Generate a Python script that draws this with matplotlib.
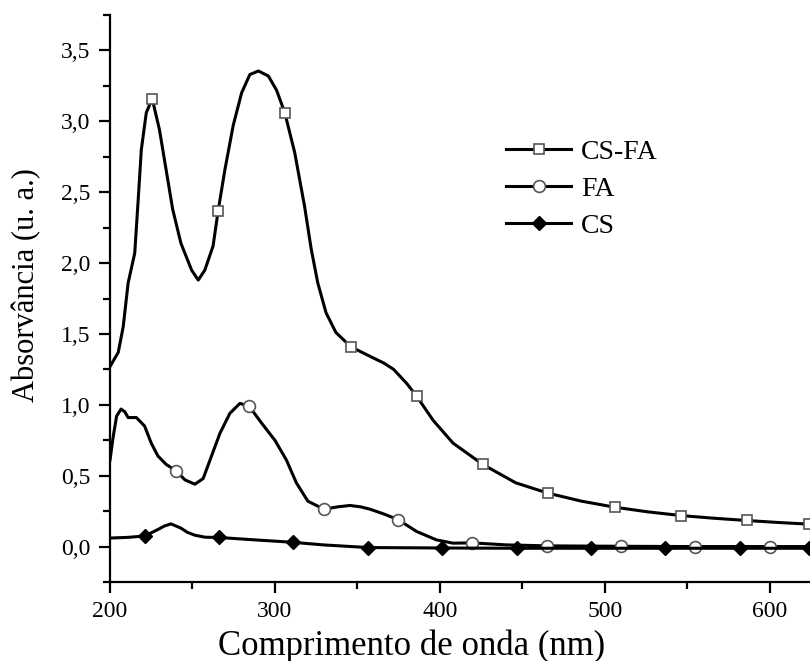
import matplotlib
matplotlib.use('Agg')
import matplotlib.pyplot as plt
from matplotlib.lines import Line2D
from matplotlib.ticker import MultipleLocator, FuncFormatter

# CS-FA
csfa_wl = [200, 205, 208, 211, 215, 217, 219, 222, 225.6, 230, 234, 238, 243, 249.5,
           253.5, 257.5, 262.5, 265.6, 269.7, 274.7, 279.8, 284.8, 290, 296, 301, 306,
           312, 318, 322, 326, 331, 337, 346, 358, 366, 372, 380, 386, 396, 408, 426,
           446, 465.5, 486, 506, 526, 546, 566, 586, 605, 624]
csfa_abs = [1.27, 1.37, 1.55, 1.86, 2.07, 2.43, 2.80, 3.06, 3.16, 2.94, 2.66, 2.38, 2.14, 1.95,
            1.88, 1.95, 2.12, 2.37, 2.66, 2.97, 3.20, 3.33, 3.355, 3.32, 3.22, 3.06,
            2.78, 2.40, 2.10, 1.86, 1.65, 1.51, 1.41, 1.34, 1.295, 1.25, 1.15, 1.06, 0.89, 0.73, 0.58,
            0.45, 0.377, 0.32, 0.278, 0.245, 0.219, 0.20, 0.184, 0.17, 0.158]
csfa_marks = [225.6, 265.6, 306, 346, 386, 426, 465.5, 506, 546, 586, 624]

# FA
fa_wl = [200, 202, 204, 206.7, 209, 211, 216, 221, 225, 229, 234, 240, 245.5, 251.5,
         256.5, 261.6, 266.7, 272.7, 278.8, 284.4, 292, 300, 307, 313, 320, 329.7, 338,
         345.5, 352, 357.6, 366, 374.7, 386, 398, 408, 419.8, 440, 465.3, 510, 555, 600.4, 624]
fa_abs = [0.61, 0.78, 0.92, 0.97, 0.95, 0.91, 0.91, 0.85, 0.73, 0.64, 0.58, 0.535, 0.47, 0.44,
          0.48, 0.64, 0.80, 0.94, 1.01, 0.99, 0.87, 0.75, 0.61, 0.45, 0.32, 0.264, 0.28,
          0.29, 0.28, 0.264, 0.23, 0.19, 0.106, 0.047, 0.024, 0.026, 0.012, 0.005, 0.002, 0.0, 0.0, 0.0]
fa_marks = [240, 284.4, 329.7, 374.7, 419.8, 465.3, 510, 555, 600.4]

# CS
cs_wl = [200, 211, 221.2, 229, 233, 237, 243, 247, 251.5, 257.6, 266.3, 288, 311, 329,
         356.6, 401.4, 446.9, 491.5, 536.8, 581.8, 624]
cs_abs = [0.06, 0.065, 0.075, 0.12, 0.145, 0.16, 0.13, 0.10, 0.08, 0.066, 0.064, 0.047, 0.03, 0.012,
          -0.007, -0.01, -0.012, -0.012, -0.012, -0.012, -0.012]
cs_marks = [221.2, 266.3, 311, 356.6, 401.4, 446.9, 491.5, 536.8, 581.8, 624]

plt.rcParams['font.family'] = ['Liberation Serif', 'DejaVu Serif']

fig = plt.figure(figsize=(8.1, 6.61), dpi=100)
ax = fig.add_axes([110/810, 79/661, 700/810, 567/661])


def idx(wl, marks):
    return [i for i, x in enumerate(wl) if x in marks]


sq = dict(marker='s', ms=7.5, mfc='white', mec='#555555', mew=1.2)
ci = dict(marker='o', ms=8.5, mfc='white', mec='#555555', mew=1.2)
di = dict(marker='D', ms=7.5, mfc='black', mec='black')

ax.plot(csfa_wl, csfa_abs, color='black', lw=2.2, markevery=idx(csfa_wl, csfa_marks), **sq)
ax.plot(fa_wl, fa_abs, color='black', lw=2.2, markevery=idx(fa_wl, fa_marks), **ci)
ax.plot(cs_wl, cs_abs, color='black', lw=2.2, markevery=idx(cs_wl, cs_marks), **di)

ax.set_xlim(200, 624.5)
ax.set_ylim(-0.25, 3.75)
ax.spines['top'].set_visible(False)
ax.spines['right'].set_visible(False)
ax.spines['left'].set_linewidth(1.6)
ax.spines['bottom'].set_linewidth(1.6)

ax.xaxis.set_major_locator(MultipleLocator(100))
ax.xaxis.set_minor_locator(MultipleLocator(50))
ax.yaxis.set_major_locator(MultipleLocator(0.5))
ax.yaxis.set_minor_locator(MultipleLocator(0.25))
ax.yaxis.set_major_formatter(FuncFormatter(lambda v, p: f'{v:.1f}'.replace('.', ',')))
ax.tick_params(which='major', direction='out', length=8, width=1.6, labelsize=17, pad=6)
ax.tick_params(which='minor', direction='out', length=5, width=1.6)

ax.set_xlabel('Comprimento de onda (nm)', fontsize=25)
ax.xaxis.set_label_coords(0.431, -0.083)
ax.set_ylabel('Absorvância (u. a.)', fontsize=22)
ax.yaxis.set_label_coords(-0.098, 0.524)

handles = [Line2D([], [], color='black', lw=2.2, **sq),
           Line2D([], [], color='black', lw=2.2, **ci),
           Line2D([], [], color='black', lw=2.2, **di)]
fig.legend(handles, ['CS-FA', 'FA', 'CS'], loc='center left',
           bbox_to_anchor=(506/810, 1 - 189/661), bbox_transform=fig.transFigure,
           frameon=False, fontsize=20, handlelength=2.35, handletextpad=0.35,
           labelspacing=0.42, borderpad=0, borderaxespad=0)

plt.savefig('out.png', dpi=100)
